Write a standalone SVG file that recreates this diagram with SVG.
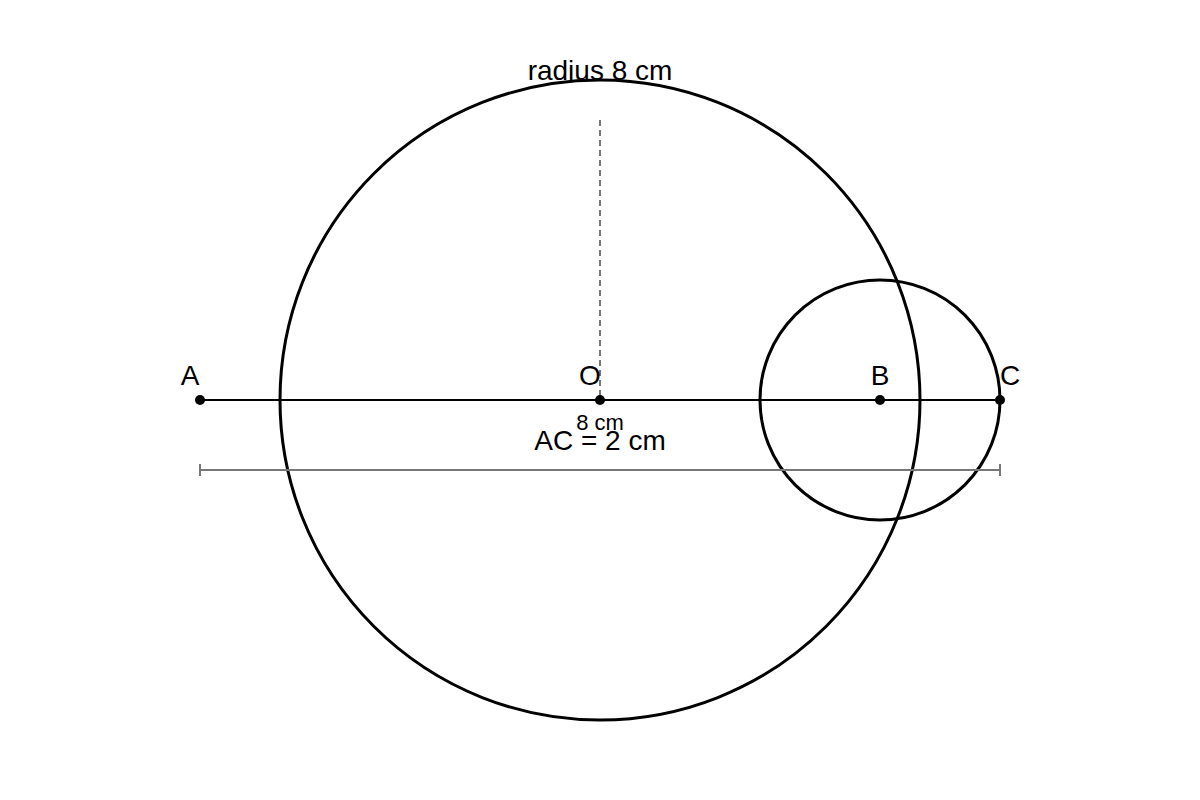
<svg xmlns="http://www.w3.org/2000/svg" width="1200" height="800" viewBox="0 0 1200 800">
<style>
.circ{fill:none;stroke:#000;stroke-width:3}
.seg{stroke:#000;stroke-width:2}
.dim{stroke:#777;stroke-width:2}
.dash{stroke:#777;stroke-width:2;stroke-dasharray:6 4}
.pt{fill:#000}
text{font-family:"Liberation Sans",Arial,sans-serif;fill:#000;text-anchor:middle}
.lbl{font-size:28px}
.sm{font-size:22px}
</style>
<rect width="1200" height="800" fill="#fff"/>
<g id="circle-O"><circle class="circ" cx="600" cy="400" r="320"/></g>
<g id="circle-B"><circle class="circ" cx="880" cy="400" r="120"/></g>
<g id="connectors">
<line class="seg" x1="200" y1="400" x2="1000" y2="400"/>
<line class="dash" x1="600" y1="120" x2="600" y2="400"/>
<line class="dim" x1="200" y1="470" x2="1000" y2="470"/>
<line class="dim" x1="200" y1="464" x2="200" y2="476"/>
<line class="dim" x1="1000" y1="464" x2="1000" y2="476"/>
</g>
<g id="point-A"><circle class="pt" cx="200" cy="400" r="5"/><text class="lbl" x="190" y="385">A</text></g>
<g id="point-O"><circle class="pt" cx="600" cy="400" r="5"/><text class="lbl" x="590" y="385">O</text></g>
<g id="point-B"><circle class="pt" cx="880" cy="400" r="5"/><text class="lbl" x="880" y="385">B</text></g>
<g id="point-C"><circle class="pt" cx="1000" cy="400" r="5"/><text class="lbl" x="1010" y="385">C</text></g>
<g id="labels">
<text class="lbl" x="600" y="80">radius 8 cm</text>
<text class="sm" x="600" y="430">8 cm</text>
<text class="lbl" x="600" y="450">AC = 2 cm</text>
</g>
</svg>
